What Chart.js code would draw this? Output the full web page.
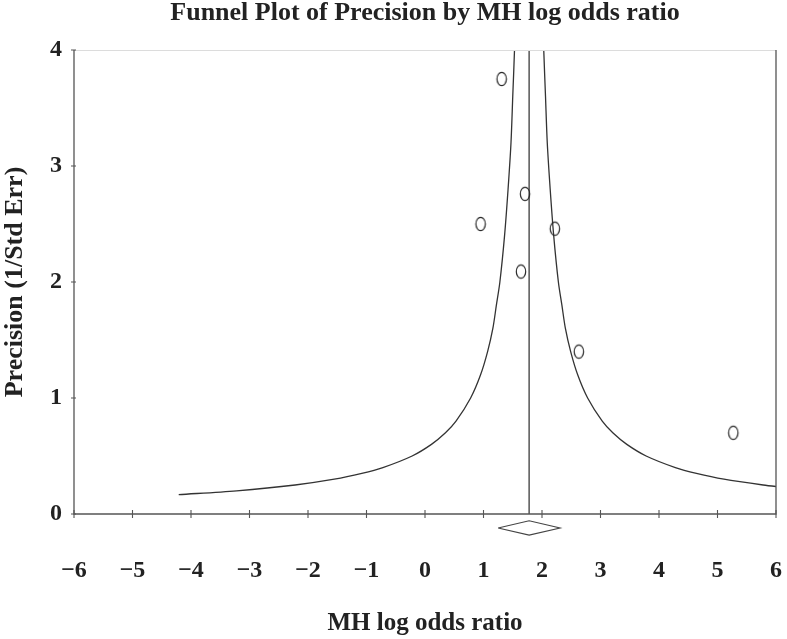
<!DOCTYPE html>
<html>
<head>
<meta charset="utf-8">
<script src="https://cdn.jsdelivr.net/npm/chart.js@4.4.0/dist/chart.umd.min.js"></script>
<style>
  html, body { margin: 0; padding: 0; background: #fff; }
  #wrap { width: 787px; height: 639px; }
</style>
</head>
<body>
<div id="wrap"><canvas id="myChart"></canvas></div>
<script>
// study estimates (MH log odds ratio) and their precision (1/Std Err)
const studyLogOR = [1.31, 1.71, 0.95, 2.22, 1.64, 2.63, 5.27];
const studyPrecision = [3.75, 2.76, 2.50, 2.46, 2.09, 1.40, 0.70];

// pooled estimate with its interval (the diamond)
const pooledLogOR = 1.78;
const pooledLower = 1.25;
const pooledUpper = 2.31;

// funnel boundaries
const leftPrecision = [0.167, 0.2, 0.25, 0.3, 0.35, 0.4, 0.5, 0.6, 0.7, 0.8, 1.0, 1.2, 1.4, 1.6, 1.8, 2.0, 2.4, 2.8, 3.2, 3.6, 4.0, 4.4];
const leftLogOR = [-4.21, -3.22, -2.22, -1.55, -1.08, -0.72, -0.22, 0.11, 0.35, 0.53, 0.78, 0.95, 1.07, 1.16, 1.22, 1.28, 1.36, 1.42, 1.47, 1.50, 1.53, 1.55];
const rightPrecision = [0.23, 0.25, 0.3, 0.35, 0.4, 0.5, 0.6, 0.7, 0.8, 1.0, 1.2, 1.4, 1.6, 1.8, 2.0, 2.4, 2.8, 3.2, 3.6, 4.0, 4.4];
const rightLogOR = [6.13, 5.78, 5.11, 4.64, 4.28, 3.78, 3.45, 3.21, 3.03, 2.78, 2.61, 2.49, 2.40, 2.34, 2.28, 2.20, 2.14, 2.09, 2.06, 2.03, 2.01];

// ticks
const xTickValues = [-6, -5, -4, -3, -2, -1, 0, 1, 2, 3, 4, 5, 6];
const xTickLabels = ['\u22126', '\u22125', '\u22124', '\u22123', '\u22122', '\u22121', '0', '1', '2', '3', '4', '5', '6'];
const yTickValues = [0, 1, 2, 3, 4];
const yTickLabels = ['0', '1', '2', '3', '4'];

const FONT = "'Liberation Serif', 'Times New Roman', serif";
const INK = '#222';
const AXIS = '#555';

const toPoints = (xs, ys) => xs.map((x, i) => ({ x: x, y: ys[i] }));

// hollow oval marker
const marker = document.createElement('canvas');
marker.width = 14;
marker.height = 18;
let mctx = marker.getContext('2d');
mctx.strokeStyle = '#2a2a2a';
mctx.lineWidth = 1.2;
mctx.beginPath();
mctx.ellipse(7, 9, 4.7, 6.7, 0, 0, Math.PI * 2);
mctx.stroke();

// diamond sits just under the x axis
const diamondY = -0.12;
const diamondHalf = 0.062;
const diamond = [
    { x: pooledLower, y: diamondY },
    { x: pooledLogOR, y: diamondY + diamondHalf },
    { x: pooledUpper, y: diamondY },
    { x: pooledLogOR, y: diamondY - diamondHalf },
    { x: pooledLower, y: diamondY }
];

// frame: axes, light top border, ticks crossing the axes
const framePlugin = {
    id: 'frame',
    afterDatasetsDraw(chart) {
        const { ctx, chartArea } = chart;
        const { left, right, top, bottom } = chartArea;
        const xs = chart.scales.x;
        const ys = chart.scales.y;
        ctx.save();
        ctx.lineWidth = 1;
        ctx.strokeStyle = '#dcdcdc';
        ctx.beginPath();
        ctx.moveTo(left, top + 0.5);
        ctx.lineTo(right, top + 0.5);
        ctx.stroke();

        ctx.strokeStyle = AXIS;
        ctx.lineWidth = 1.3;
        ctx.beginPath();
        ctx.moveTo(left, top);
        ctx.lineTo(left, bottom);
        ctx.lineTo(right, bottom);
        ctx.lineTo(right, top);
        ctx.stroke();

        ctx.lineWidth = 1.1;
        ctx.beginPath();
        xTickValues.forEach(v => {
            const px = xs.getPixelForValue(v);
            ctx.moveTo(px, bottom - 4);
            ctx.lineTo(px, bottom + 4);
        });
        yTickValues.forEach(v => {
            const py = ys.getPixelForValue(v);
            ctx.moveTo(left - 3, py);
            ctx.lineTo(left + 2, py);
        });
        ctx.stroke();
        ctx.restore();
    }
};

let ctx = document.getElementById('myChart').getContext('2d');
var myChart = new Chart(ctx, {         //eslint-disable-line
    type: 'scatter',
    data: {
        datasets: [
            {
                label: 'Studies',
                data: toPoints(studyLogOR, studyPrecision),
                pointStyle: marker,
                pointRadius: 7,
                showLine: false
            },
            {
                label: 'Funnel left',
                data: toPoints(leftLogOR, leftPrecision),
                showLine: true,
                pointRadius: 0,
                borderColor: '#333',
                borderWidth: 1.3,
                tension: 0.3
            },
            {
                label: 'Funnel right',
                data: toPoints(rightLogOR, rightPrecision),
                showLine: true,
                pointRadius: 0,
                borderColor: '#333',
                borderWidth: 1.3,
                tension: 0.3
            },
            {
                label: 'Pooled',
                data: [{ x: pooledLogOR, y: 0 }, { x: pooledLogOR, y: 4 }],
                showLine: true,
                pointRadius: 0,
                borderColor: '#555',
                borderWidth: 1.5
            },
            {
                label: 'Pooled CI',
                data: diamond,
                showLine: true,
                pointRadius: 0,
                borderColor: '#444',
                borderWidth: 1.1,
                tension: 0,
                clip: false
            }
        ]
    },
    options: {
        responsive: true,
        maintainAspectRatio: false,
        animation: false,
        layout: { padding: { top: 0, left: 0, right: 11, bottom: 0 } },
        plugins: {
            legend: { display: false },
            tooltip: { enabled: false },
            title: {
                display: true,
                fullSize: false,
                text: 'Funnel Plot of Precision by MH log odds ratio',
                color: INK,
                font: { family: FONT, size: 26, weight: 'bold', lineHeight: 1 },
                padding: { top: 0, bottom: 24 }
            }
        },
        scales: {
            x: {
                type: 'linear',
                min: -6,
                max: 6,
                afterFit(scale) { scale.height = 125; },
                grid: { display: false, drawTicks: true, tickLength: 42 },
                border: { display: false },
                ticks: {
                    stepSize: 1,
                    padding: 0,
                    color: INK,
                    font: { family: FONT, size: 24, weight: 'bold' },
                    callback: (v) => xTickLabels[xTickValues.indexOf(v)]
                },
                title: {
                    display: true,
                    text: 'MH log odds ratio',
                    color: INK,
                    font: { family: FONT, size: 25, weight: 'bold' },
                    padding: 0
                }
            },
            y: {
                min: 0,
                max: 4,
                afterFit(scale) { scale.width = 74; },
                grid: { display: false, drawTicks: false },
                border: { display: false },
                ticks: {
                    stepSize: 1,
                    padding: 12,
                    color: INK,
                    font: { family: FONT, size: 24, weight: 'bold' },
                    callback: (v) => yTickLabels[yTickValues.indexOf(v)]
                },
                title: {
                    display: true,
                    text: 'Precision (1/Std Err)',
                    color: INK,
                    font: { family: FONT, size: 26, weight: 'bold' },
                    padding: 0
                }
            }
        }
    },
    plugins: [framePlugin]
});
</script>
</body>
</html>
